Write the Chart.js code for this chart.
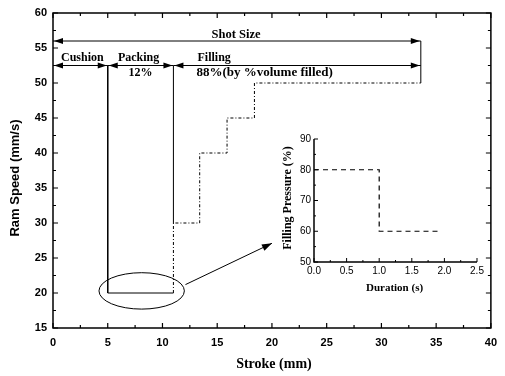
<!DOCTYPE html>
<html>
<head>
<meta charset="utf-8">
<script src="https://cdn.jsdelivr.net/npm/chart.js@4/dist/chart.umd.min.js"></script>
<style>
  html, body { margin: 0; padding: 0; background: #fff; }
  #wrap { position: relative; width: 505px; height: 376px; }
  #main { position: absolute; left: 0; top: 0; }
  #inset { position: absolute; left: 280px; top: 125px; }
</style>
</head>
<body>
<div id="wrap">
  <canvas id="main" width="505" height="376"></canvas>
  <canvas id="inset" width="210" height="175"></canvas>
</div>
<script>
// ---------- main chart data ----------
const strokeTicks = [0, 5, 10, 15, 20, 25, 30, 35, 40];
const speedTicks = [15, 20, 25, 30, 35, 40, 45, 50, 55, 60];

// packing zone (solid)
const packStroke = [5, 5, 11];
const packSpeed = [52.5, 20, 20];
const packEdgeStroke = [11, 11];
const packEdgeSpeed = [30, 52.5];

// filling speed profile (stepped, dash-dot)
const fillStroke = [11, 11, 13.4, 15.9, 18.4, 33.6];
const fillSpeed = [20, 30, 40, 45, 50, 50];

// shot size end marker
const shotEndStroke = [33.6, 33.6];
const shotEndSpeed = [50, 56];

// dimension annotations (data units)
const dimLabels = ['Shot Size', 'Cushion', 'Packing', 'Filling'];
const dimFrom = [0, 0, 5, 11];
const dimTo = [33.6, 5, 11, 33.6];
const dimAt = [56, 52.5, 52.5, 52.5];
const subLabels = ['12%', '88%(by %volume filled)'];

// ---------- inset data ----------
const durationTicks = [0, 0.5, 1.0, 1.5, 2.0, 2.5];
const pressureTicks = [50, 60, 70, 80, 90];
const duration = [0, 1.0, 1.95];
const pressure = [80, 60, 60];

function pts(xs, ys) { return xs.map((x, i) => ({ x: x, y: ys[i] })); }

const SANS = '"Liberation Sans", Arial, sans-serif';
const SERIF = '"Liberation Serif", "Times New Roman", serif';

function arrowHead(ctx, x, y, dir) {
  ctx.beginPath();
  ctx.moveTo(x, y);
  ctx.lineTo(x - dir * 9, y - 3);
  ctx.lineTo(x - dir * 9, y + 3);
  ctx.closePath();
  ctx.fill();
}

function drawTicks(ctx, scale, area, vals, len, orient) {
  vals.forEach(v => {
    const p = scale.getPixelForValue(v);
    ctx.beginPath();
    if (orient === 'x') {
      ctx.moveTo(p, area.bottom); ctx.lineTo(p, area.bottom - len);
      ctx.moveTo(p, area.top); ctx.lineTo(p, area.top + len);
    } else if (orient === 'xb') {
      ctx.moveTo(p, area.bottom); ctx.lineTo(p, area.bottom - len);
    } else if (orient === 'yl') {
      ctx.moveTo(area.left, p); ctx.lineTo(area.left + len, p);
    } else {
      ctx.moveTo(area.left, p); ctx.lineTo(area.left + len, p);
      ctx.moveTo(area.right, p); ctx.lineTo(area.right - len, p);
    }
    ctx.stroke();
  });
}

const mainDecor = {
  id: 'mainDecor',
  afterDatasetsDraw(chart) {
    const ctx = chart.ctx, a = chart.chartArea;
    const xs = chart.scales.x, ys = chart.scales.y;
    ctx.save();
    ctx.strokeStyle = '#000';
    ctx.fillStyle = '#000';
    ctx.lineWidth = 1.5;
    ctx.strokeRect(a.left, a.top, a.right - a.left, a.bottom - a.top);
    ctx.lineWidth = 1.2;
    const minorX = strokeTicks.slice(0, -1).map(v => v + 2.5);
    drawTicks(ctx, xs, a, strokeTicks, 5, 'x');
    drawTicks(ctx, xs, a, minorX, 3, 'x');
    const minorY = speedTicks.slice(0, -1).map(v => v + 2.5);
    drawTicks(ctx, ys, a, speedTicks, 5, 'y');
    drawTicks(ctx, ys, a, minorY, 3, 'y');

    ctx.lineWidth = 1;
    dimLabels.forEach((lab, i) => {
      const x1 = xs.getPixelForValue(dimFrom[i]);
      const x2 = xs.getPixelForValue(dimTo[i]);
      const y = ys.getPixelForValue(dimAt[i]);
      ctx.beginPath(); ctx.moveTo(x1, y); ctx.lineTo(x2, y); ctx.stroke();
      arrowHead(ctx, x1 + 1, y, -1);
      arrowHead(ctx, x2 - 1, y, 1);
    });
    ctx.font = 'bold 12.5px ' + SERIF;
    ctx.textAlign = 'center';
    ctx.textBaseline = 'middle';
    ctx.fillText(dimLabels[0], 236, ys.getPixelForValue(dimAt[0]) - 6);
    ctx.font = 'bold 12px ' + SERIF;
    ctx.fillText(dimLabels[1], (xs.getPixelForValue(0) + xs.getPixelForValue(5)) / 2 + 2, ys.getPixelForValue(52.5) - 8);
    ctx.fillText(dimLabels[2], (xs.getPixelForValue(5) + xs.getPixelForValue(11)) / 2 - 2, ys.getPixelForValue(52.5) - 8);
    ctx.textAlign = 'left';
    ctx.fillText(dimLabels[3], xs.getPixelForValue(13.2), ys.getPixelForValue(52.5) - 8);
    ctx.textAlign = 'center';
    ctx.fillText(subLabels[0], (xs.getPixelForValue(5) + xs.getPixelForValue(11)) / 2, ys.getPixelForValue(52.5) + 7);
    ctx.textAlign = 'left';
    ctx.font = 'bold 13px ' + SERIF;
    ctx.fillText(subLabels[1], xs.getPixelForValue(13.1), ys.getPixelForValue(52.5) + 7);

    const cx = xs.getPixelForValue(8.1), cy = ys.getPixelForValue(20.3);
    const rx = xs.getPixelForValue(8.1 + 3.9) - cx;
    const ry = cy - ys.getPixelForValue(20.3 + 2.6);
    ctx.lineWidth = 1;
    ctx.beginPath(); ctx.ellipse(cx, cy, rx, ry, 0, 0, Math.PI * 2); ctx.stroke();
    const sx = xs.getPixelForValue(12.1), sy = ys.getPixelForValue(21.2);
    const ex = xs.getPixelForValue(20.0), ey = ys.getPixelForValue(27.1);
    ctx.beginPath(); ctx.moveTo(sx, sy); ctx.lineTo(ex, ey); ctx.stroke();
    const ang = Math.atan2(ey - sy, ex - sx);
    ctx.beginPath();
    ctx.moveTo(ex, ey);
    ctx.lineTo(ex - 10 * Math.cos(ang) + 3.5 * Math.sin(ang), ey - 10 * Math.sin(ang) - 3.5 * Math.cos(ang));
    ctx.lineTo(ex - 10 * Math.cos(ang) - 3.5 * Math.sin(ang), ey - 10 * Math.sin(ang) + 3.5 * Math.cos(ang));
    ctx.closePath(); ctx.fill();

    ctx.textAlign = 'center';
    ctx.font = 'bold 14px ' + SERIF;
    ctx.fillText('Stroke (mm)', (a.left + a.right) / 2 + 2, 364);
    ctx.save();
    ctx.translate(15, 178);
    ctx.rotate(-Math.PI / 2);
    ctx.font = 'bold 13px ' + SANS;
    ctx.fillText('Ram Speed (mm/s)', 0, 0);
    ctx.restore();
    ctx.restore();
  }
};

new Chart(document.getElementById('main'), {
  type: 'line',
  data: {
    datasets: [
      { data: pts(packStroke, packSpeed), borderColor: '#000', borderWidth: 1, pointRadius: 0 },
      { data: pts(packEdgeStroke, packEdgeSpeed), borderColor: '#000', borderWidth: 1, pointRadius: 0 },
      { data: pts(fillStroke, fillSpeed), borderColor: '#000', borderWidth: 1, pointRadius: 0,
        stepped: 'before', borderDash: [3, 2, 1, 2] },
      { data: pts(shotEndStroke, shotEndSpeed), borderColor: '#000', borderWidth: 1, pointRadius: 0 }
    ]
  },
  options: {
    responsive: false,
    animation: false,
    events: [],
    layout: { padding: { top: 13, right: 5, left: 0, bottom: 0 } },
    plugins: { legend: { display: false }, tooltip: { enabled: false } },
    scales: {
      x: {
        type: 'linear', min: 0, max: 40,
        afterFit: s => { s.height = 48; },
        afterBuildTicks: s => { s.ticks = strokeTicks.map(v => ({ value: v })); },
        grid: { display: false, drawTicks: false },
        border: { display: false },
        ticks: { color: '#000', font: { family: SANS, size: 11, weight: 'bold' }, padding: 8, maxRotation: 0, autoSkip: false }
      },
      y: {
        type: 'linear', min: 15, max: 60,
        afterFit: s => { s.width = 53; },
        afterBuildTicks: s => { s.ticks = speedTicks.map(v => ({ value: v })); },
        grid: { display: false, drawTicks: false },
        border: { display: false },
        ticks: { color: '#000', font: { family: SANS, size: 11, weight: 'bold' }, padding: 6, autoSkip: false }
      }
    }
  },
  plugins: [mainDecor]
});

const insetDecor = {
  id: 'insetDecor',
  afterDatasetsDraw(chart) {
    const ctx = chart.ctx, a = chart.chartArea;
    const xs = chart.scales.x, ys = chart.scales.y;
    ctx.save();
    ctx.strokeStyle = '#000'; ctx.fillStyle = '#000';
    ctx.lineWidth = 1.5;
    ctx.beginPath();
    ctx.moveTo(a.left, a.top); ctx.lineTo(a.left, a.bottom); ctx.lineTo(a.right, a.bottom);
    ctx.stroke();
    ctx.lineWidth = 1;
    drawTicks(ctx, xs, a, durationTicks, 4, 'xb');
    drawTicks(ctx, xs, a, durationTicks.slice(0, -1).map(v => v + 0.25), 2, 'xb');
    drawTicks(ctx, ys, a, pressureTicks, 4, 'yl');
    drawTicks(ctx, ys, a, pressureTicks.slice(0, -1).map(v => v + 5), 2, 'yl');
    ctx.textAlign = 'center'; ctx.textBaseline = 'middle';
    ctx.font = 'bold 11px ' + SERIF;
    ctx.fillText('Duration (s)', (a.left + a.right) / 2 - 1, 163);
    ctx.save();
    ctx.translate(8, 73);
    ctx.rotate(-Math.PI / 2);
    ctx.font = 'bold 12px ' + SERIF;
    ctx.fillText('Filling Pressure (%)', 0, 0);
    ctx.restore();
    ctx.restore();
  }
};

new Chart(document.getElementById('inset'), {
  type: 'line',
  data: {
    datasets: [
      { data: pts(duration, pressure), borderColor: '#000', borderWidth: 1.2, pointRadius: 0,
        stepped: 'before', borderDash: [5, 4] }
    ]
  },
  options: {
    responsive: false,
    animation: false,
    events: [],
    layout: { padding: { top: 14, right: 13, left: 0, bottom: 0 } },
    plugins: { legend: { display: false }, tooltip: { enabled: false } },
    scales: {
      x: {
        type: 'linear', min: 0, max: 2.5,
        afterFit: s => { s.height = 38; },
        afterBuildTicks: s => { s.ticks = durationTicks.map(v => ({ value: v })); },
        grid: { display: false, drawTicks: false },
        border: { display: false },
        ticks: { color: '#000', font: { family: SANS, size: 10 }, padding: 3, maxRotation: 0, autoSkip: false,
                 callback: v => Number(v).toFixed(1) }
      },
      y: {
        type: 'linear', min: 50, max: 90,
        afterFit: s => { s.width = 34; },
        afterBuildTicks: s => { s.ticks = pressureTicks.map(v => ({ value: v })); },
        grid: { display: false, drawTicks: false },
        border: { display: false },
        ticks: { color: '#000', font: { family: SANS, size: 10 }, padding: 3, autoSkip: false }
      }
    }
  },
  plugins: [insetDecor]
});
</script>
</body>
</html>
